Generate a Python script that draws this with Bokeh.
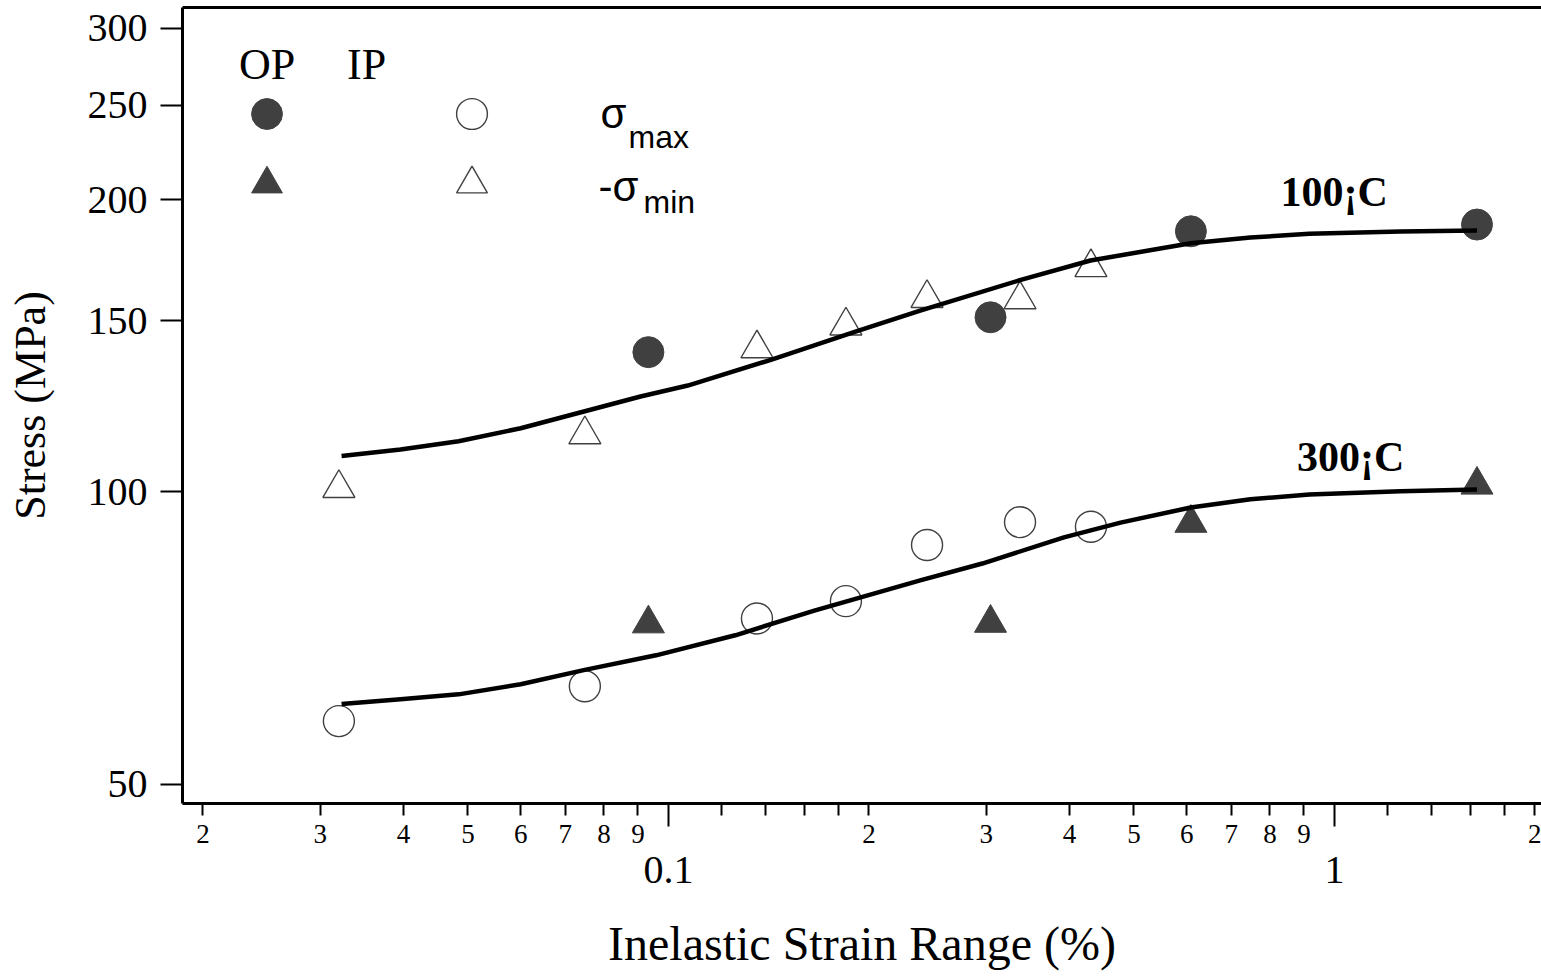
from bokeh.plotting import figure
from bokeh.models import (Range1d, LogAxis, FixedTicker, PrintfTickFormatter, Label,
                          CustomJSTickFormatter, Legend, LegendItem)
from bokeh.embed import file_html
from bokeh.resources import INLINE

# ---------------- data ----------------
strain_op = [0.0933, 0.3045, 0.6088, 1.637]
sigma_max_op = [139.3, 151.3, 185.5, 188.5]
sigma_min_op = [73.2, 73.3, 92.9, 101.7]

strain_ip = [0.0320, 0.0749, 0.1358, 0.1847, 0.2445, 0.3372, 0.4309]
sigma_max_ip = [58.1, 63.1, 74.1, 77.2, 88.2, 93.1, 92.1]
sigma_min_ip = [100.9, 114.6, 140.5, 148.3, 158.3, 157.8, 170.3]

fit100_x = [0.0323, 0.0396, 0.0484, 0.0600, 0.0749, 0.0908, 0.1069, 0.1425, 0.1899,
             0.2388, 0.3360, 0.4302, 0.6084, 0.7478, 0.9166, 1.256, 1.637]
fit100_y = [108.9, 110.6, 112.8, 116.3, 121.1, 125.4, 128.7, 136.8, 146.1,
            153.7, 165.1, 173.1, 180.3, 182.8, 184.4, 185.4, 185.8]

fit300_x = [0.0323, 0.0396, 0.0484, 0.0600, 0.0749, 0.0958, 0.1260, 0.1656, 0.2388,
            0.2960, 0.3925, 0.4773, 0.6084, 0.7478, 0.9166, 1.256, 1.637]
fit300_y = [60.5, 61.2, 61.9, 63.4, 65.6, 67.9, 71.2, 75.5, 81.1,
            84.4, 89.8, 93.0, 96.4, 98.3, 99.4, 100.2, 100.6]

x_major_ticks = [0.1, 1]
x_minor_ticks = [0.02, 0.03, 0.04, 0.05, 0.06, 0.07, 0.08, 0.09,
                 0.12, 0.14, 0.16, 0.18,
                 0.2, 0.3, 0.4, 0.5, 0.6, 0.7, 0.8, 0.9,
                 1.2, 1.4, 1.6, 1.8, 2]
x_minor_label_pos = [0.02, 0.03, 0.04, 0.05, 0.06, 0.07, 0.08, 0.09,
                     0.2, 0.3, 0.4, 0.5, 0.6, 0.7, 0.8, 0.9, 2]
x_minor_label_text = ["2", "3", "4", "5", "6", "7", "8", "9",
                      "2", "3", "4", "5", "6", "7", "8", "9", "2"]
y_ticks = [50, 100, 150, 200, 250, 300]

SERIF = "Liberation Serif"
SANS = "Liberation Sans"
DARK = "#404040"

p = figure(width=1541, height=976, x_axis_type="log", y_axis_type="log",
           x_range=Range1d(0.018635, 2.046), y_range=Range1d(47.79, 315.3),
           output_backend="svg", toolbar_location=None,
           min_border_left=182, min_border_right=0, min_border_top=7, min_border_bottom=173,
           outline_line_color=None, background_fill_color="white", border_fill_color="white")
p.grid.visible = False

# x axis (near): decade ticks with labels, minor ticks
xa = p.xaxis[0]
xa.ticker = FixedTicker(ticks=x_major_ticks, minor_ticks=x_minor_ticks)
xa.formatter = PrintfTickFormatter(format="%g")
xa.major_tick_in = 0
xa.major_tick_out = 23
xa.minor_tick_in = 0
xa.minor_tick_out = 12
xa.major_tick_line_width = 2
xa.minor_tick_line_width = 2
xa.major_tick_line_color = "black"
xa.minor_tick_line_color = "black"
xa.axis_line_width = 3
xa.axis_line_color = "black"
xa.major_label_text_font = SERIF
xa.major_label_text_font_size = "40px"
xa.major_label_text_color = "black"
xa.major_label_standoff = 30

# x axis (outer): digit labels of the minor ticks + axis title
xa2 = LogAxis(ticker=FixedTicker(ticks=x_minor_label_pos, minor_ticks=[]),
              formatter=CustomJSTickFormatter(
                  args=dict(vals=x_minor_label_pos, labels=x_minor_label_text),
                  code="""
                  for (let i = 0; i < vals.length; i++) {
                      if (Math.abs(vals[i] - tick) < 1e-9 * Math.max(1, tick)) return labels[i];
                  }
                  return "";
                  """),
              axis_line_color=None,
              major_tick_in=0, major_tick_out=0, minor_tick_in=0, minor_tick_out=0,
              major_label_text_font=SERIF, major_label_text_font_size="27px",
              major_label_text_color="black", major_label_standoff=-61,
              axis_label="Inelastic Strain Range (%)", axis_label_text_font=SERIF,
              axis_label_text_font_size="48px", axis_label_text_font_style="normal",
              axis_label_text_color="black", axis_label_standoff=71)
p.add_layout(xa2, "below")

# y axis
ya = p.yaxis[0]
ya.ticker = FixedTicker(ticks=y_ticks, minor_ticks=[])
ya.formatter = PrintfTickFormatter(format="%d")
ya.major_tick_in = 0
ya.major_tick_out = 22
ya.minor_tick_in = 0
ya.minor_tick_out = 0
ya.major_tick_line_width = 2
ya.major_tick_line_color = "black"
ya.axis_line_width = 3
ya.axis_line_color = "black"
ya.major_label_text_font = SERIF
ya.major_label_text_font_size = "40px"
ya.major_label_text_color = "black"
ya.major_label_standoff = 13
ya.axis_label = "Stress (MPa)"
ya.axis_label_text_font = SERIF
ya.axis_label_text_font_size = "44px"
ya.axis_label_text_font_style = "normal"
ya.axis_label_text_color = "black"
ya.axis_label_standoff = 30

# top frame line
top = LogAxis(ticker=FixedTicker(ticks=[], minor_ticks=[]),
              major_tick_in=0, major_tick_out=0, minor_tick_in=0, minor_tick_out=0,
              major_label_text_font_size="0px", major_label_standoff=0,
              axis_line_width=3, axis_line_color="black")
p.add_layout(top, "above")

# markers
r_op_max = p.scatter(strain_op, sigma_max_op, marker="circle", size=31,
                     fill_color=DARK, line_color=DARK)
r_op_min = p.scatter(strain_op, sigma_min_op, marker="triangle", size=32,
                     fill_color=DARK, line_color=DARK)
r_ip_max = p.scatter(strain_ip, sigma_max_ip, marker="circle", size=31,
                     fill_color=None, line_color=DARK, line_width=1.4)
r_ip_min = p.scatter(strain_ip, sigma_min_ip, marker="triangle", size=32,
                     fill_color=None, line_color=DARK, line_width=1.4)

# fitted curves
p.line(fit100_x, fit100_y, line_width=4.5, line_color="black", line_join="round")
p.line(fit300_x, fit300_y, line_width=4.5, line_color="black", line_join="round")

# legend markers (OP / IP columns, sigma_max / -sigma_min rows)
def make_legend(renderer, loc):
    return Legend(items=[LegendItem(label=" ", renderers=[renderer])],
                  location=loc, orientation="vertical",
                  glyph_width=77, glyph_height=77, spacing=0,
                  label_standoff=0, label_width=0, label_height=0,
                  label_text_font_size="1px", padding=0, margin=0,
                  border_line_color=None, background_fill_alpha=0)

p.add_layout(make_legend(r_op_max, (45.5, 650.8)))
p.add_layout(make_legend(r_op_min, (45.5, 581.5)))
p.add_layout(make_legend(r_ip_max, (250.5, 650.8)))
p.add_layout(make_legend(r_ip_min, (250.5, 581.5)))

def slabel(x, y, text, font, size, style="normal"):
    p.add_layout(Label(x=x, y=y, x_units="screen", y_units="screen", text=text,
                       text_font=font, text_font_size=size, text_font_style=style,
                       text_color="black", text_align="left", text_baseline="alphabetic"))

slabel(56.5, 739, "OP", SERIF, "44px")
slabel(164.6, 739, "IP", SERIF, "44px")
slabel(418, 690, "σ", SANS, "42px")
slabel(446, 667, "max", SANS, "32px")
slabel(416, 617.5, "-σ", SANS, "42px")
slabel(461, 602, "min", SANS, "32px")

# temperature labels
p.add_layout(Label(x=0.8296, y=203.5, text="100¡C", text_font=SERIF, text_font_size="42px",
                   text_font_style="bold", text_color="black", text_baseline="alphabetic"))
p.add_layout(Label(x=0.8787, y=108.6, text="300¡C", text_font=SERIF, text_font_size="42px",
                   text_font_style="bold", text_color="black", text_baseline="alphabetic"))

open("out.html", "w").write(file_html(p, INLINE))
